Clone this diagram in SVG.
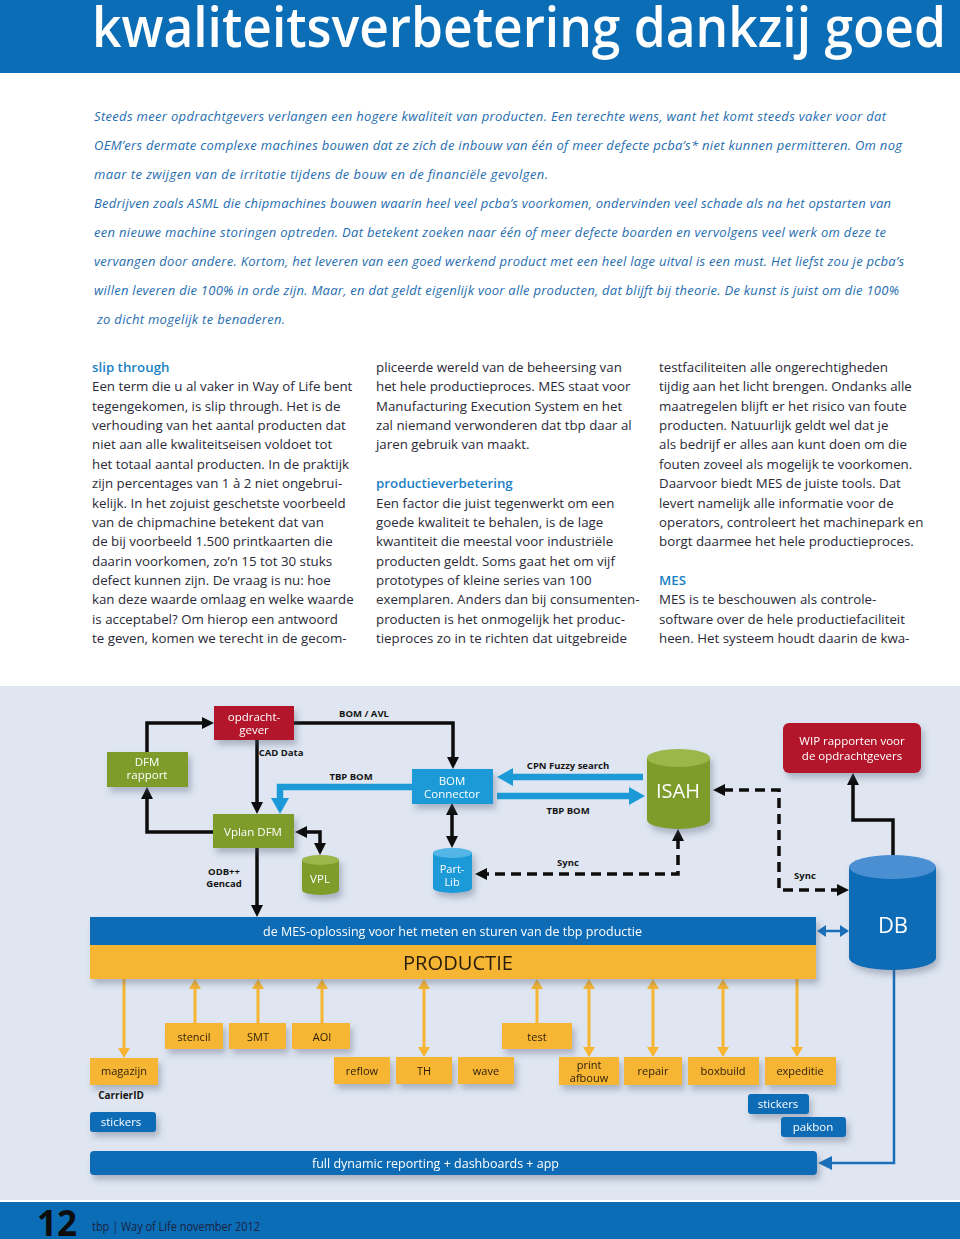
<svg xmlns="http://www.w3.org/2000/svg" width="960" height="1239" viewBox="0 0 960 1239">
<style>
.ttl{font-family:"Open Sans","Noto Sans",sans-serif;font-weight:600;fill:#fff}
.intro{font-family:"Open Sans","Noto Sans",sans-serif;font-style:italic;font-size:13px;fill:#1f6db0}
.body{font-family:"Open Sans","Noto Sans",sans-serif;font-size:13.3px;fill:#2a2a38}
.hd{font-family:"Open Sans","Noto Sans",sans-serif;font-size:13.3px;font-weight:600;fill:#1b7fc4}
.wl{font-family:"Open Sans","Noto Sans",sans-serif;font-size:11.5px;fill:#fff;text-anchor:middle}
.ol{font-family:"Open Sans","Noto Sans",sans-serif;font-size:11px;fill:#2a1e0c;text-anchor:middle}
.el{font-family:"Open Sans","Noto Sans",sans-serif;font-size:9.5px;font-weight:700;fill:#151515;text-anchor:middle}
.blk{fill:none;stroke:#0d0d0d;stroke-width:3.5}
.dash{fill:none;stroke:#0d0d0d;stroke-width:3.5;stroke-dasharray:10 6}
.cyan{fill:none;stroke:#1b9ad7;stroke-width:6.5}
.org{fill:none;stroke:#f6b532;stroke-width:3}
.dbl{fill:none;stroke:#1a6fb8;stroke-width:2.5}
.red{fill:#b3172c}.grn{fill:#7d9c2c}.grnT{fill:#9bb64a}.cy{fill:#1b9ad7}.cyT{fill:#53b6e6}.db{fill:#0d6cb5}.dbT{fill:#4a8fd2}.or{fill:#f6b532}
</style>
<defs>
<filter id="sh" x="-20%" y="-20%" width="150%" height="170%"><feDropShadow dx="3" dy="5" stdDeviation="3" flood-color="#4a5570" flood-opacity="0.35"/></filter>
<marker id="ab" viewBox="0 0 12 12" refX="2" refY="6" markerWidth="12" markerHeight="12" markerUnits="userSpaceOnUse" orient="auto-start-reverse"><path d="M0,0 L12,6 L0,12 z" fill="#0d0d0d"/></marker>
<marker id="ac" viewBox="0 0 16 18" refX="2" refY="9" markerWidth="16" markerHeight="18" markerUnits="userSpaceOnUse" orient="auto-start-reverse"><path d="M0,0 L16,9 L0,18 z" fill="#1b9ad7"/></marker>
<marker id="ao" viewBox="0 0 11 12" refX="1" refY="6" markerWidth="11" markerHeight="12" markerUnits="userSpaceOnUse" orient="auto-start-reverse"><path d="M0,0 L10,6 L0,12 z" fill="#f6b532"/></marker>
<marker id="ad" viewBox="0 0 14 14" refX="1" refY="7" markerWidth="14" markerHeight="14" markerUnits="userSpaceOnUse" orient="auto-start-reverse"><path d="M0,0 L14,7 L0,14 z" fill="#1a6fb8"/></marker>
<marker id="as" viewBox="0 0 9 12" refX="1" refY="6" markerWidth="9" markerHeight="12" markerUnits="userSpaceOnUse" orient="auto-start-reverse"><path d="M0,0 L9,6 L0,12 z" fill="#1a6fb8"/></marker>
</defs>

<!-- header -->
<rect x="0" y="0" width="960" height="73" fill="#0b6db6"/>
<text class="ttl" x="92" y="47" font-size="56" textLength="854" lengthAdjust="spacingAndGlyphs">kwaliteitsverbetering dankzij goed</text>

<!-- intro -->
<g class="intro">
<text x="94" y="121" textLength="792" lengthAdjust="spacing">Steeds meer opdrachtgevers verlangen een hogere kwaliteit van producten. Een terechte wens, want het komt steeds vaker voor dat</text>
<text x="94" y="150" textLength="808" lengthAdjust="spacing">OEM’ers dermate complexe machines bouwen dat ze zich de inbouw van één of meer defecte pcba’s* niet kunnen permitteren. Om nog</text>
<text x="94" y="179" textLength="454" lengthAdjust="spacing">maar te zwijgen van de irritatie tijdens de bouw en de financiële gevolgen.</text>
<text x="94" y="208" textLength="797" lengthAdjust="spacing">Bedrijven zoals ASML die chipmachines bouwen waarin heel veel pcba’s voorkomen, ondervinden veel schade als na het opstarten van</text>
<text x="94" y="237" textLength="792" lengthAdjust="spacing">een nieuwe machine storingen optreden. Dat betekent zoeken naar één of meer defecte boarden en vervolgens veel werk om deze te</text>
<text x="94" y="266" textLength="810" lengthAdjust="spacing">vervangen door andere. Kortom, het leveren van een goed werkend product met een heel lage uitval is een must. Het liefst zou je pcba’s</text>
<text x="94" y="295" textLength="805" lengthAdjust="spacing">willen leveren die 100% in orde zijn. Maar, en dat geldt eigenlijk voor alle producten, dat blijft bij theorie. De kunst is juist om die 100%</text>
<text x="97" y="324" textLength="188" lengthAdjust="spacing">zo dicht mogelijk te benaderen.</text>
</g>

<!-- column 1 -->
<g>
<text class="hd" x="92" y="372">slip through</text>
<g class="body">
<text x="92" y="391.4">Een term die u al vaker in Way of Life bent</text>
<text x="92" y="410.7">tegengekomen, is slip through. Het is de</text>
<text x="92" y="430.1">verhouding van het aantal producten dat</text>
<text x="92" y="449.4">niet aan alle kwaliteitseisen voldoet tot</text>
<text x="92" y="468.8">het totaal aantal producten. In de praktijk</text>
<text x="92" y="488.2">zijn percentages van 1 à 2 niet ongebrui-</text>
<text x="92" y="507.5">kelijk. In het zojuist geschetste voorbeeld</text>
<text x="92" y="526.9">van de chipmachine betekent dat van</text>
<text x="92" y="546.2">de bij voorbeeld 1.500 printkaarten die</text>
<text x="92" y="565.6">daarin voorkomen, zo’n 15 tot 30 stuks</text>
<text x="92" y="585">defect kunnen zijn. De vraag is nu: hoe</text>
<text x="92" y="604.3">kan deze waarde omlaag en welke waarde</text>
<text x="92" y="623.7">is acceptabel? Om hierop een antwoord</text>
<text x="92" y="643">te geven, komen we terecht in de gecom-</text>
</g>
</g>

<!-- column 2 -->
<g>
<g class="body">
<text x="376" y="372">pliceerde wereld van de beheersing van</text>
<text x="376" y="391.4">het hele productieproces. MES staat voor</text>
<text x="376" y="410.7">Manufacturing Execution System en het</text>
<text x="376" y="430.1">zal niemand verwonderen dat tbp daar al</text>
<text x="376" y="449.4">jaren gebruik van maakt.</text>
</g>
<text class="hd" x="376" y="488.2">productieverbetering</text>
<g class="body">
<text x="376" y="507.5">Een factor die juist tegenwerkt om een</text>
<text x="376" y="526.9">goede kwaliteit te behalen, is de lage</text>
<text x="376" y="546.2">kwantiteit die meestal voor industriële</text>
<text x="376" y="565.6">producten geldt. Soms gaat het om vijf</text>
<text x="376" y="585">prototypes of kleine series van 100</text>
<text x="376" y="604.3">exemplaren. Anders dan bij consumenten-</text>
<text x="376" y="623.7">producten is het onmogelijk het produc-</text>
<text x="376" y="643">tieproces zo in te richten dat uitgebreide</text>
</g>
</g>

<!-- column 3 -->
<g>
<g class="body">
<text x="659" y="372">testfaciliteiten alle ongerechtigheden</text>
<text x="659" y="391.4">tijdig aan het licht brengen. Ondanks alle</text>
<text x="659" y="410.7">maatregelen blijft er het risico van foute</text>
<text x="659" y="430.1">producten. Natuurlijk geldt wel dat je</text>
<text x="659" y="449.4">als bedrijf er alles aan kunt doen om die</text>
<text x="659" y="468.8">fouten zoveel als mogelijk te voorkomen.</text>
<text x="659" y="488.2">Daarvoor biedt MES de juiste tools. Dat</text>
<text x="659" y="507.5">levert namelijk alle informatie voor de</text>
<text x="659" y="526.9">operators, controleert het machinepark en</text>
<text x="659" y="546.2">borgt daarmee het hele productieproces.</text>
</g>
<text class="hd" x="659" y="585">MES</text>
<g class="body">
<text x="659" y="604.3">MES is te beschouwen als controle-</text>
<text x="659" y="623.7">software over de hele productiefaciliteit</text>
<text x="659" y="643">heen. Het systeem houdt daarin de kwa-</text>
</g>
</g>

<!-- diagram background -->
<rect x="0" y="686" width="960" height="514" fill="#dfe6f1"/>

<!-- connectors -->
<g id="connectors">
<path class="blk" d="M147,752 V723 H204" marker-end="url(#ab)"/>
<path class="blk" d="M213,832 H147 V797" marker-end="url(#ab)"/>
<path class="blk" d="M257,740 V804" marker-end="url(#ab)"/>
<path class="blk" d="M294,723 H453 V759" marker-end="url(#ab)"/>
<path class="cyan" d="M412,787 H280 V800" marker-end="url(#ac)"/>
<path class="blk" d="M305,832 H320 V845" marker-start="url(#ab)" marker-end="url(#ab)"/>
<path class="blk" d="M257,847 V907" marker-end="url(#ab)"/>
<path class="blk" d="M452,813 V838" marker-start="url(#ab)" marker-end="url(#ab)"/>
<path class="cyan" d="M643,777 H511" marker-end="url(#ac)"/>
<path class="cyan" d="M497,796 H631" marker-end="url(#ac)"/>
<path class="dash" d="M678,839 V874 H485" marker-start="url(#ab)" marker-end="url(#ab)"/>
<path class="dash" d="M723,790 H779 V890 H839" marker-start="url(#ab)" marker-end="url(#ab)"/>
<path class="blk" d="M893,868 V820 H853 V783" marker-end="url(#ab)"/>
<path class="dbl" d="M825,931 H841" stroke-width="3" marker-start="url(#as)" marker-end="url(#as)"/>
<path class="dbl" d="M894,968 V1163 H831" marker-end="url(#ad)"/>
<path class="org" d="M124,979 V1049" marker-end="url(#ao)"/>
<path class="org" d="M195,1023 V988" marker-end="url(#ao)"/>
<path class="org" d="M258,1023 V988" marker-end="url(#ao)"/>
<path class="org" d="M322,1023 V988" marker-end="url(#ao)"/>
<path class="org" d="M424,988 V1048" marker-start="url(#ao)" marker-end="url(#ao)"/>
<path class="org" d="M537,1023 V988" marker-end="url(#ao)"/>
<path class="org" d="M589,988 V1048" marker-start="url(#ao)" marker-end="url(#ao)"/>
<path class="org" d="M653,988 V1048" marker-start="url(#ao)" marker-end="url(#ao)"/>
<path class="org" d="M723,988 V1048" marker-start="url(#ao)" marker-end="url(#ao)"/>
<path class="org" d="M797,979 V1048" marker-end="url(#ao)"/>
<g class="el">
<text x="364" y="717">BOM / AVL</text>
<text x="281" y="756">CAD Data</text>
<text x="351" y="780">TBP BOM</text>
<text x="568" y="769">CPN Fuzzy search</text>
<text x="568" y="814">TBP BOM</text>
<text x="568" y="866">Sync</text>
<text x="805" y="879">Sync</text>
<text x="224" y="875">ODB++</text>
<text x="224" y="887">Gencad</text>
</g>
</g>

<!-- nodes -->
<g id="opdrachtgever" filter="url(#sh)"><rect class="red" x="214" y="706" width="80" height="34"/><text class="wl" x="254" y="721">opdracht-</text><text class="wl" x="254" y="734">gever</text></g>
<g id="dfm-rapport" filter="url(#sh)"><rect class="grn" x="107" y="752" width="81" height="35"/><text class="wl" x="147" y="766">DFM</text><text class="wl" x="147" y="779">rapport</text></g>
<g id="vplan-dfm" filter="url(#sh)"><rect class="grn" x="213" y="814" width="81" height="34"/><text class="wl" x="253" y="836">Vplan  DFM</text></g>
<g id="vpl" filter="url(#sh)"><path class="grn" d="M302,860 V890 A18.5,5 0 0 0 339,890 V860 Z"/><ellipse class="grnT" cx="320.5" cy="860" rx="18.5" ry="5"/><text class="wl" x="320" y="883">VPL</text></g>
<g id="bom-connector" filter="url(#sh)"><rect class="cy" x="412" y="769" width="81" height="35"/><text class="wl" x="452" y="785">BOM</text><text class="wl" x="452" y="798">Connector</text></g>
<g id="part-lib" filter="url(#sh)"><path class="cy" d="M433,853 V888 A19.5,5 0 0 0 472,888 V853 Z"/><ellipse class="cyT" cx="452.5" cy="853" rx="19.5" ry="5"/><text class="wl" x="452" y="873" style="font-size:11px">Part-</text><text class="wl" x="452" y="886" style="font-size:11px">Lib</text></g>
<g id="isah" filter="url(#sh)"><path class="grn" d="M647,758 V820 A31.5,9 0 0 0 710,820 V758 Z"/><ellipse class="grnT" cx="678.5" cy="758" rx="31.5" ry="9"/><text class="wl" x="678" y="798" style="font-size:20px">ISAH</text></g>
<g id="wip" filter="url(#sh)"><rect class="red" x="783" y="723" width="138" height="50" rx="6"/><text class="wl" x="852" y="745">WIP rapporten voor</text><text class="wl" x="852" y="760">de opdrachtgevers</text></g>
<g id="db" filter="url(#sh)"><path class="db" d="M849,867 V958 A43.5,12 0 0 0 936,958 V867 Z"/><ellipse class="dbT" cx="892.5" cy="867" rx="43.5" ry="12"/><text class="wl" x="893" y="933" style="font-size:22px">DB</text></g>
<g id="mes-productie" filter="url(#sh)"><rect class="db" x="90" y="917" width="726" height="28"/><rect class="or" x="90" y="945" width="726" height="34"/><text x="263" y="936" font-family="'Open Sans','Noto Sans',sans-serif" font-size="13.5" fill="#fff" textLength="379" lengthAdjust="spacingAndGlyphs">de MES-oplossing voor het meten en sturen van de tbp productie</text><text x="403" y="970" font-family="'Open Sans','Noto Sans',sans-serif" font-size="19.5" fill="#2a1e0c" textLength="110" lengthAdjust="spacingAndGlyphs">PRODUCTIE</text></g>
<g id="stencil" filter="url(#sh)"><rect class="or" x="165" y="1023" width="58" height="26"/><text class="ol" x="194" y="1041">stencil</text></g>
<g id="smt" filter="url(#sh)"><rect class="or" x="229" y="1023" width="57" height="26"/><text class="ol" x="258" y="1041">SMT</text></g>
<g id="aoi" filter="url(#sh)"><rect class="or" x="292" y="1023" width="58" height="26"/><text class="ol" x="322" y="1041">AOI</text></g>
<g id="test" filter="url(#sh)"><rect class="or" x="502" y="1023" width="70" height="26"/><text class="ol" x="537" y="1041">test</text></g>
<g id="magazijn" filter="url(#sh)"><rect class="or" x="90" y="1058" width="68" height="27"/><text class="ol" x="124" y="1075">magazijn</text></g>
<g id="reflow" filter="url(#sh)"><rect class="or" x="334" y="1057" width="56" height="27"/><text class="ol" x="362" y="1075">reflow</text></g>
<g id="th" filter="url(#sh)"><rect class="or" x="396" y="1057" width="56" height="27"/><text class="ol" x="424" y="1075">TH</text></g>
<g id="wave" filter="url(#sh)"><rect class="or" x="458" y="1057" width="56" height="27"/><text class="ol" x="486" y="1075">wave</text></g>
<g id="print-afbouw" filter="url(#sh)"><rect class="or" x="559" y="1057" width="60" height="28"/><text class="ol" x="589" y="1069">print</text><text class="ol" x="589" y="1082">afbouw</text></g>
<g id="repair" filter="url(#sh)"><rect class="or" x="624" y="1057" width="58" height="28"/><text class="ol" x="653" y="1075">repair</text></g>
<g id="boxbuild" filter="url(#sh)"><rect class="or" x="688" y="1057" width="71" height="28"/><text class="ol" x="723" y="1075">boxbuild</text></g>
<g id="expeditie" filter="url(#sh)"><rect class="or" x="765" y="1057" width="71" height="28"/><text class="ol" x="800" y="1075">expeditie</text></g>
<g id="carrierid"><text class="el" x="121" y="1099" style="font-size:10px">CarrierID</text></g>
<g id="stickers-left" filter="url(#sh)"><rect class="db" x="90" y="1112" width="66" height="20" rx="3"/><text class="wl" x="121" y="1126">stickers</text></g>
<g id="stickers-right" filter="url(#sh)"><rect class="db" x="748" y="1094" width="61" height="20" rx="3"/><text class="wl" x="778" y="1108">stickers</text></g>
<g id="pakbon" filter="url(#sh)"><rect class="db" x="781" y="1117" width="65" height="20" rx="3"/><text class="wl" x="813" y="1131">pakbon</text></g>
<g id="reporting" filter="url(#sh)"><rect class="db" x="90" y="1151" width="727" height="24" rx="4"/><text x="312" y="1168" font-family="'Open Sans','Noto Sans',sans-serif" font-size="13.5" fill="#fff" textLength="247" lengthAdjust="spacingAndGlyphs">full dynamic reporting + dashboards + app</text></g>

<!-- footer -->
<rect x="0" y="1202" width="960" height="37" fill="#0b6db6"/>
<text x="37" y="1236" font-family="'Open Sans','Noto Sans',sans-serif" font-size="36" font-weight="700" fill="#0d0d0d" textLength="40" lengthAdjust="spacingAndGlyphs">12</text>
<text x="92" y="1231" font-family="'Open Sans','Noto Sans',sans-serif" font-size="12.5" fill="#1a2340" textLength="168" lengthAdjust="spacingAndGlyphs">tbp | Way of Life november 2012</text>
</svg>
